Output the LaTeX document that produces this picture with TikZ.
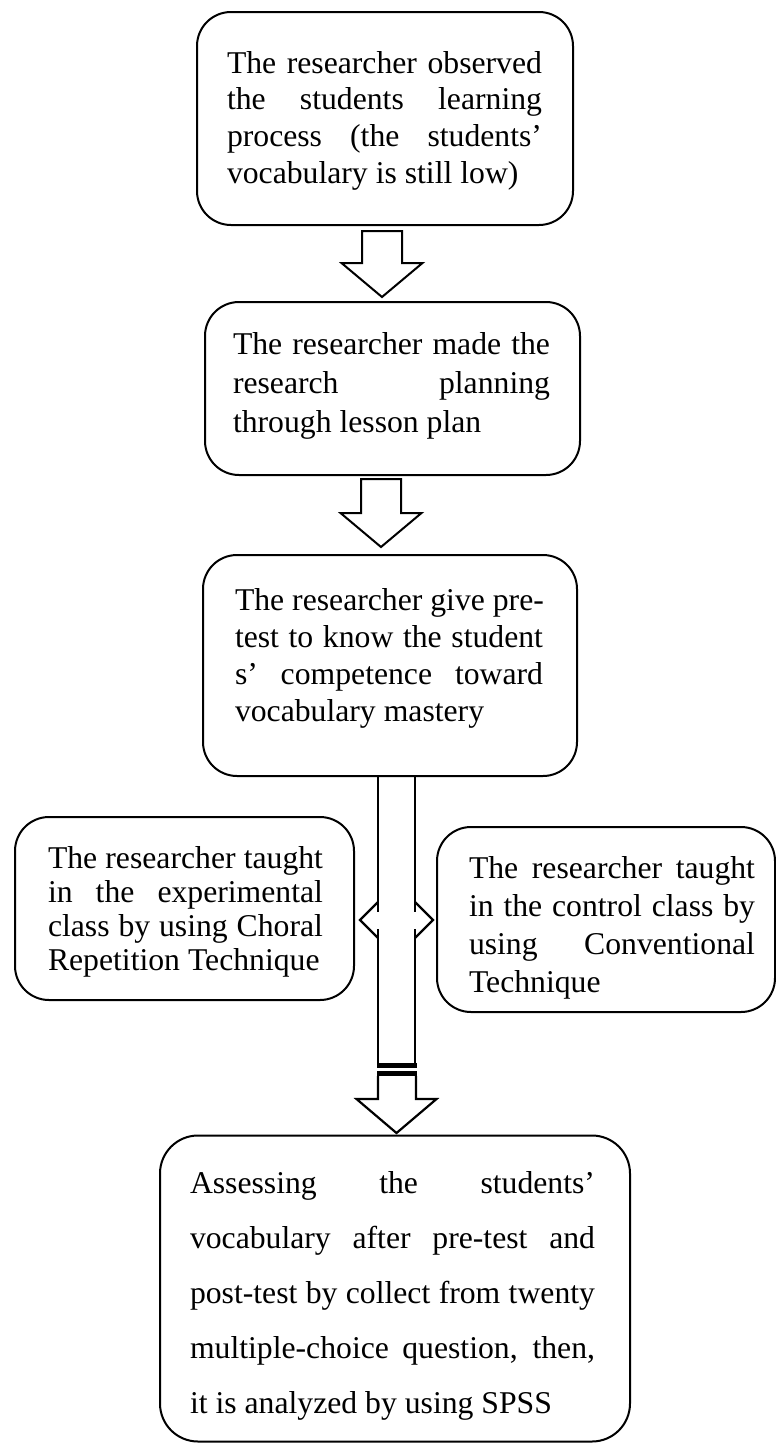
\documentclass[tikz,border=0pt]{standalone}
\usepackage{fontspec}
\setmainfont{Liberation Serif}
\usetikzlibrary{calc}
\newcommand\jl[1]{\par\noindent\hbox to \hsize{\spaceskip=.25em plus 30em\relax #1}\par}
\newcommand\nl[1]{\par\noindent\hbox{\spaceskip=.25em\relax #1}\par}
\newcommand\fs[1]{\fontsize{31.7}{#1}\selectfont}
\begin{document}
\begin{tikzpicture}[x=1pt,y=-1pt,
  box/.style={draw, line width=2pt, rounded corners=34pt, inner sep=0pt},
  txt/.style={anchor=north west, inner sep=0pt, outer sep=0pt},
  blk/.style={draw, line width=2pt, line join=miter, fill=white},
  ln/.style={line width=2.2pt}]
\useasboundingbox (0,0) rectangle (776,1443);
% boxes
\node[box, minimum width=376pt, minimum height=213pt] (b1) at (385,118.5) {};
\node[box, minimum width=375pt, minimum height=173pt] (b2) at (392.5,388.5) {};
\node[box, minimum width=374pt, minimum height=221pt] (b3) at (390,665.5) {};
\node[box, minimum width=339pt, minimum height=183pt] (L) at (184.5,908.5) {};
\node[box, minimum width=338pt, minimum height=185pt] (R) at (606,919.5) {};
\node[box, rounded corners=38pt, minimum width=470pt, minimum height=306pt] (bb) at (395,1288.5) {};
% texts
\node[txt, text width=315pt] (t1) at (227,36.3) {\fs{36.7}%
\jl{The researcher observed}
\jl{the students learning}
\jl{process (the students'}
\nl{vocabulary is still low)}};
\node[txt, text width=317pt] (t2) at (233,315) {\fs{39}%
\jl{The researcher made the}
\jl{research planning}
\nl{through lesson plan}};
\node[txt, text width=308pt] (t3) at (235,572.7) {\fs{37.3}%
\jl{The researcher give pre-}
\jl{test to know the student}
\jl{s' competence toward}
\nl{vocabulary mastery}};
\node[txt, text width=275pt] (tL) at (48,834) {\fs{34}%
\jl{The researcher taught}
\jl{in the experimental}
\jl{class by using Choral}
\nl{Repetition Technique}};
\node[txt, text width=286pt] (tR) at (469,840) {\fs{38}%
\jl{The researcher taught}
\jl{in the control class by}
\jl{using Conventional}
\nl{Technique}};
\node[txt, text width=405pt] (tB) at (190,1138) {\fs{55}%
\jl{Assessing the students'}
\jl{vocabulary after pre-test and}
\jl{post-test by collect from twenty}
\jl{multiple-choice question, then,}
\nl{it is analyzed by using SPSS}};
% block arrows
\coordinate (a1) at ($(b2.north)+(-10.5,-4)$);
\begin{scope}[shift={(a1)}]
\draw[blk] (-20,-66) -- (20,-66) -- (20,-34) -- (40.5,-34) -- (0,0) -- (-40.5,-34) -- (-20,-34) -- cycle;
\end{scope}
\coordinate (a2) at ($(b3.north)+(-9,-7)$);
\begin{scope}[shift={(a2)}]
\draw[blk] (-20,-68) -- (20,-68) -- (20,-34) -- (40.5,-34) -- (0,0) -- (-40.5,-34) -- (-20,-34) -- cycle;
\end{scope}
% main shaft
\coordinate (st) at ($(b3.south)+(6.5,0)$);
\begin{scope}[shift={(st)}]
\draw[ln] (-18.5,0) -- (-18.5,135) (-18.5,152) -- (-18.5,286);
\draw[ln] (18.5,0) -- (18.5,135) (18.5,152) -- (18.5,286);
\draw[ln, line join=miter] (-18.5,125) -- (-36.5,143) -- (-18.5,161);
\draw[ln, line join=miter] (18.5,125) -- (36.5,143) -- (18.5,161);
\fill (-20,286) rectangle (20,291);
\fill (-20,294) rectangle (20,299);
\draw[ln, line join=miter] (-18.5,299) -- (-18.5,322) -- (-40,322) -- (0,356) -- (40,322) -- (19.5,322) -- (19.5,299);
\end{scope}
\end{tikzpicture}
\end{document}
